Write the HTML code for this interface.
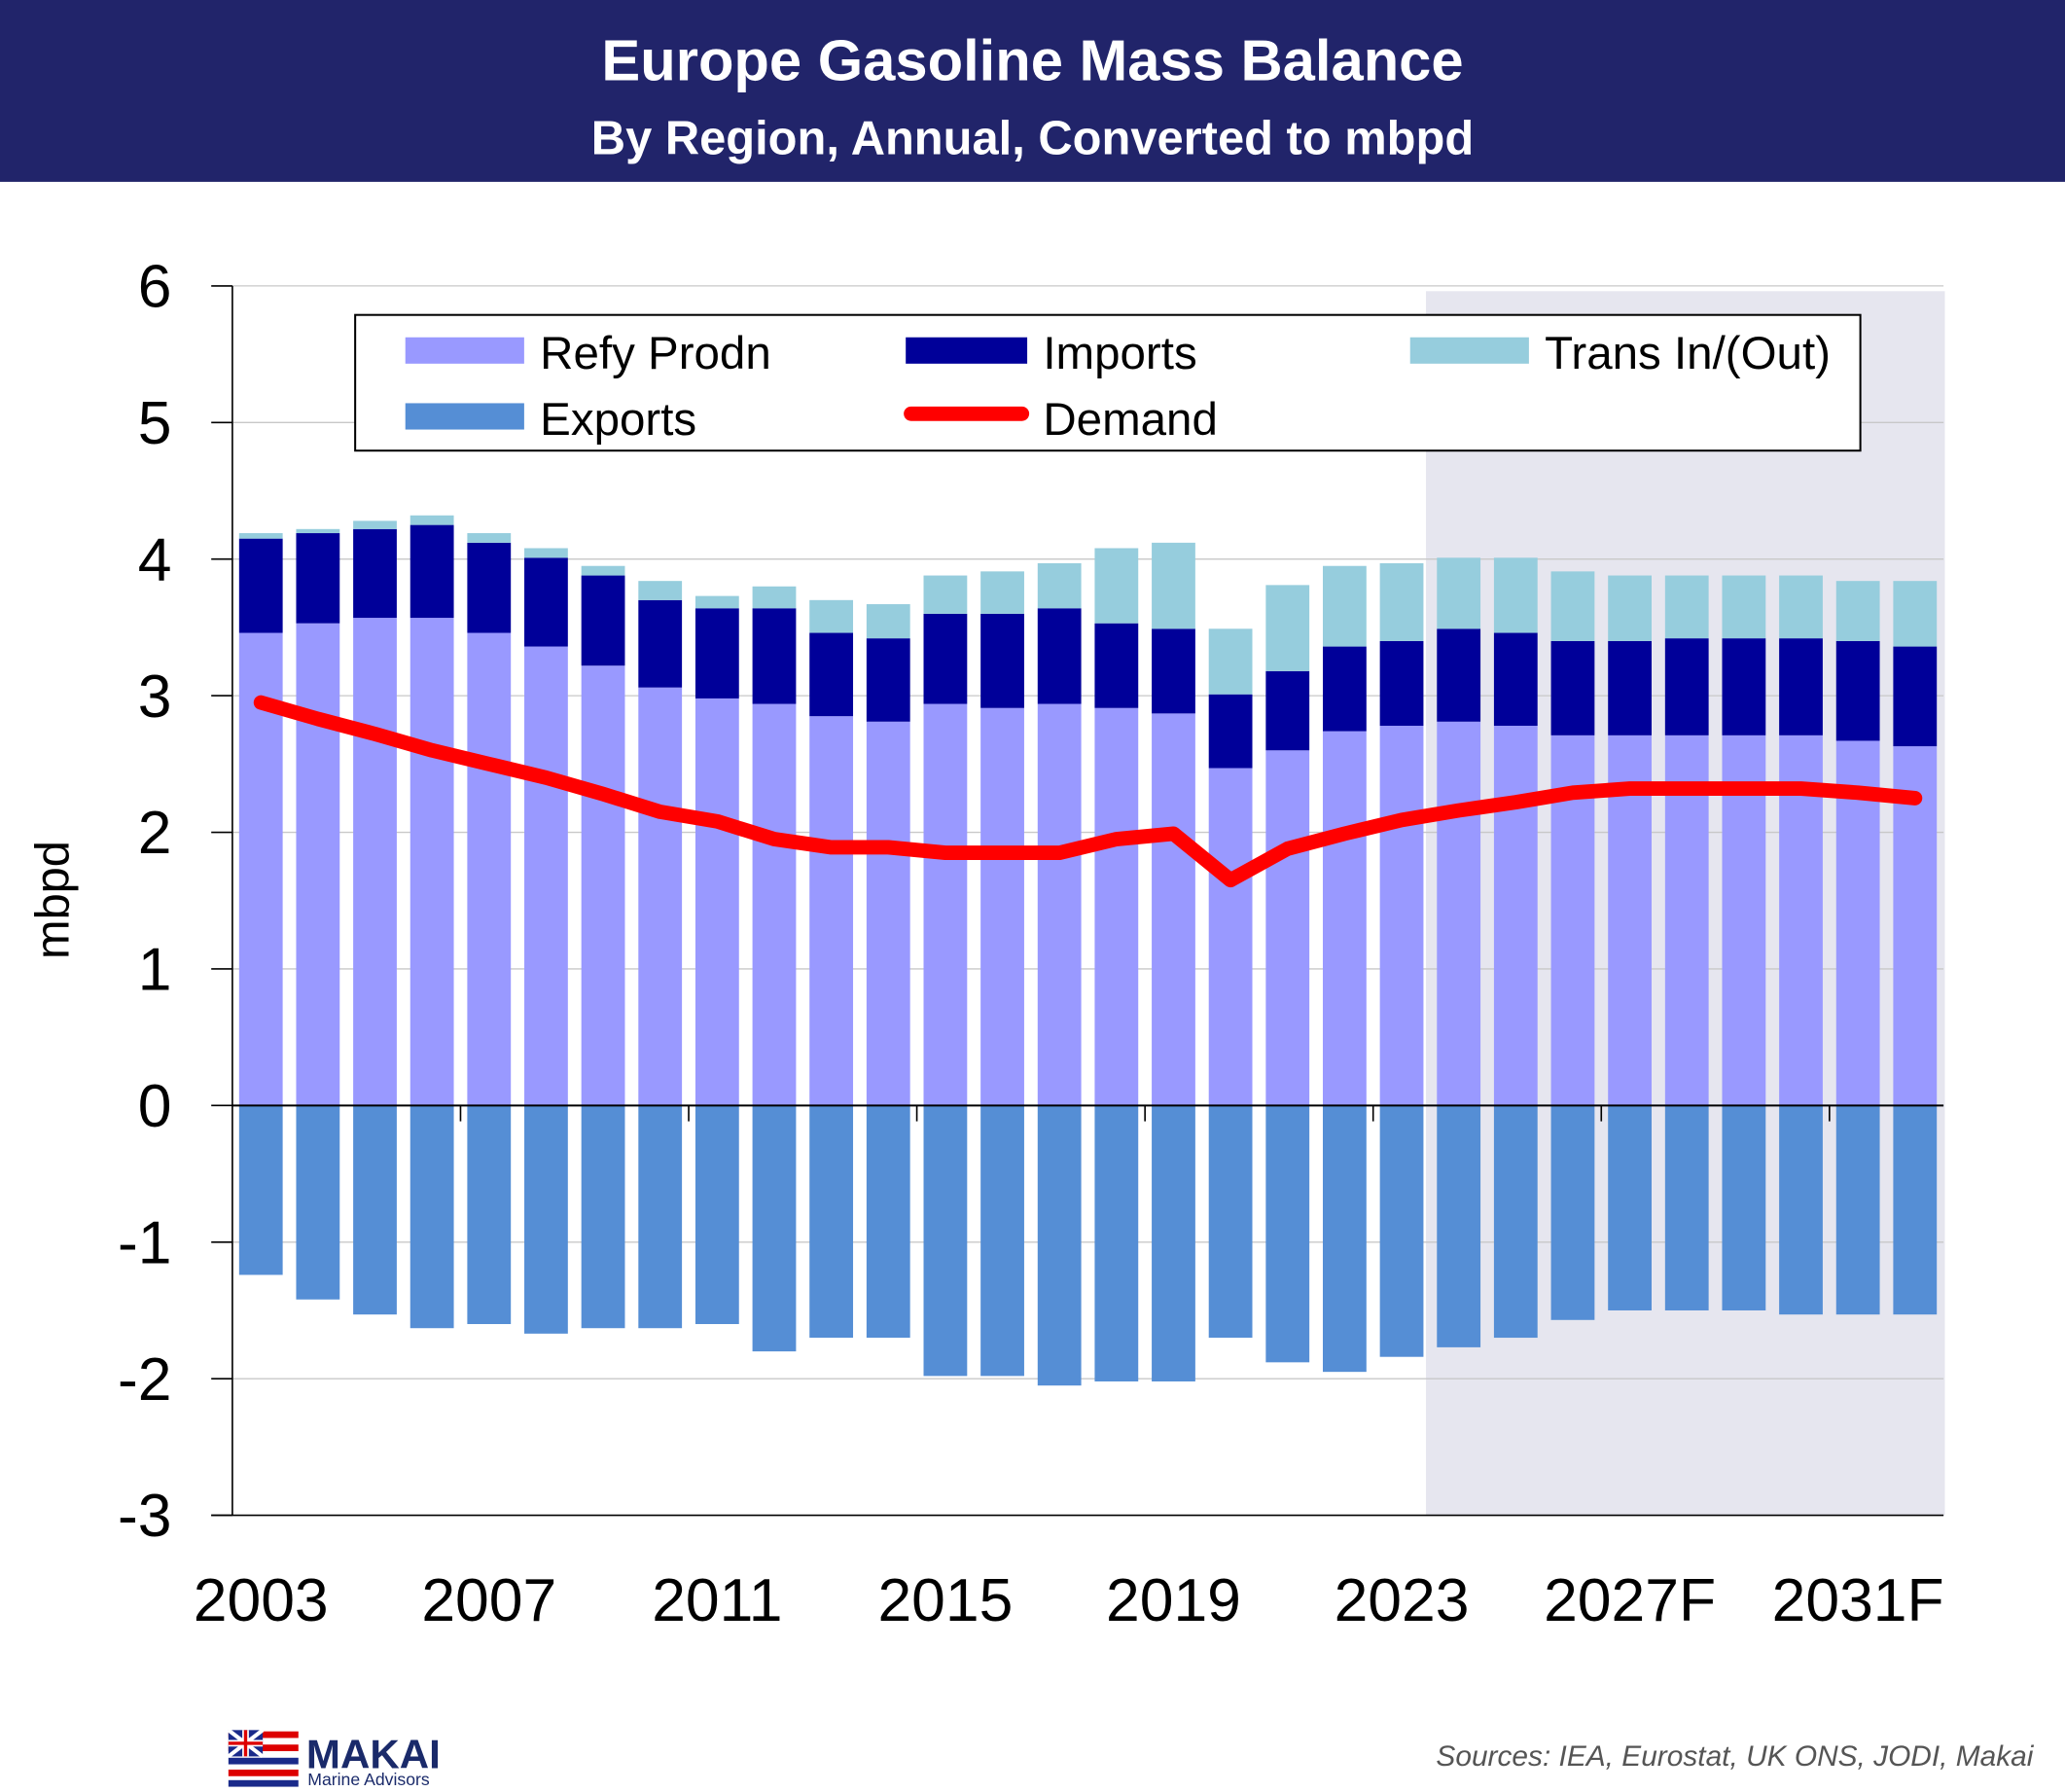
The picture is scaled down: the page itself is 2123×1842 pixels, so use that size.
<!DOCTYPE html>
<html><head><meta charset="utf-8"><style>
html,body{margin:0;padding:0;background:#fff}
svg{display:block}
text{font-family:"Liberation Sans",sans-serif}
</style></head><body>
<svg id="chart" width="2123" height="1842" viewBox="0 0 1564 1360" preserveAspectRatio="none" xmlns="http://www.w3.org/2000/svg">
<rect x="0" y="0" width="1564" height="138" fill="#21246a"/>
<text x="782" y="61" fill="#fff" font-size="44" font-weight="bold" text-anchor="middle">Europe Gasoline Mass Balance</text>
<text x="782" y="117" fill="#fff" font-size="36" font-weight="bold" text-anchor="middle">By Region, Annual, Converted to mbpd</text>
<rect x="1080" y="221" width="393" height="929" fill="#e6e6ef"/>
<g id="grid"></g>
<g id="bars"></g>
<g id="axes"></g>
<g id="line"></g>
<text transform="translate(52,683) rotate(-90)" font-size="36" text-anchor="middle">mbpd</text>
<g>
<rect x="269" y="239" width="1140" height="103" fill="#fff" stroke="#000" stroke-width="1.5"/>
<rect x="307" y="256" width="90" height="20" fill="#9999ff"/>
<text x="409" y="280" font-size="35">Refy Prodn</text>
<rect x="686" y="256" width="92" height="20" fill="#000099"/>
<text x="790" y="280" font-size="35">Imports</text>
<rect x="1068" y="256" width="90" height="20" fill="#96cddd"/>
<text x="1170" y="280" font-size="35">Trans In/(Out)</text>
<rect x="307" y="306" width="90" height="20" fill="#558ed5"/>
<text x="409" y="330" font-size="35">Exports</text>
<line x1="690" y1="314" x2="774" y2="314" stroke="#ff0000" stroke-width="11" stroke-linecap="round"/>
<text x="790" y="330" font-size="35">Demand</text>
</g>
<g>
<rect x="173" y="1313" width="53" height="43" fill="#fff"/>
<rect x="173" y="1314" width="53" height="5" fill="#d00"/>
<rect x="173" y="1324" width="53" height="5" fill="#d00"/>
<rect x="173" y="1334" width="53" height="5" fill="#1a2a8a"/>
<rect x="173" y="1343" width="53" height="5" fill="#d00"/>
<rect x="173" y="1351" width="53" height="5" fill="#1a2a8a"/>
<rect x="173" y="1313" width="26" height="20" fill="#1a2a8a"/>
<path d="M173 1313 L199 1333 M199 1313 L173 1333" stroke="#fff" stroke-width="3"/>
<path d="M186 1313 V1333 M173 1323 H199" stroke="#fff" stroke-width="5"/>
<path d="M186 1313 V1333 M173 1323 H199" stroke="#d00" stroke-width="2.5"/>
<text x="232" y="1342" font-size="31" font-weight="bold" fill="#1a2a6a">MAKAI</text>
<text x="233" y="1355" font-size="13" fill="#1a2a6a">Marine Advisors</text>
</g>
<text x="1540" y="1340" font-size="22" font-style="italic" fill="#555" text-anchor="end">Sources: IEA, Eurostat, UK ONS, JODI, Makai</text>
</svg>
<script>
const years = ["2003","2004","2005","2006","2007","2008","2009","2010","2011","2012","2013","2014","2015","2016","2017","2018","2019","2020","2021","2022","2023","2024","2025","2026","2027F","2028F","2029F","2030F","2031F","2032F"];
const refy = [3.46,3.53,3.57,3.57,3.46,3.36,3.22,3.06,2.98,2.94,2.85,2.81,2.94,2.91,2.94,2.91,2.87,2.47,2.60,2.74,2.78,2.81,2.78,2.71,2.71,2.71,2.71,2.71,2.67,2.63];
const imports = [0.69,0.66,0.65,0.68,0.66,0.65,0.66,0.64,0.66,0.70,0.61,0.61,0.66,0.69,0.70,0.62,0.62,0.54,0.58,0.62,0.62,0.68,0.68,0.69,0.69,0.71,0.71,0.71,0.73,0.73];
const trans = [0.04,0.03,0.06,0.07,0.07,0.07,0.07,0.14,0.09,0.16,0.24,0.25,0.28,0.31,0.33,0.55,0.63,0.48,0.63,0.59,0.57,0.52,0.55,0.51,0.48,0.46,0.46,0.46,0.44,0.48];
const exportsV = [-1.24,-1.42,-1.53,-1.63,-1.60,-1.67,-1.63,-1.63,-1.60,-1.80,-1.70,-1.70,-1.98,-1.98,-2.05,-2.02,-2.02,-1.70,-1.88,-1.95,-1.84,-1.77,-1.70,-1.57,-1.50,-1.50,-1.50,-1.53,-1.53,-1.53];
const demand = [2.95,2.83,2.72,2.60,2.50,2.40,2.28,2.15,2.08,1.95,1.89,1.89,1.85,1.85,1.85,1.95,1.99,1.65,1.88,1.99,2.09,2.16,2.22,2.29,2.32,2.32,2.32,2.32,2.29,2.25];
const yTicks = [6,5,4,3,2,1,0,-1,-2,-3];
const xLabelIdx = [0,4,8,12,16,20,24,28];

const NS="http://www.w3.org/2000/svg";
const X0=176,X1=1472,Y0=839,PU=103.67;
const bw=(X1-X0)/years.length;
const yS=v=>Y0-v*PU;
const xC=i=>X0+bw*(i+0.5);
function mk(tag,attrs,parent){const e=document.createElementNS(NS,tag);for(const k in attrs)e.setAttribute(k,attrs[k]);parent.appendChild(e);return e;}
const G=document.getElementById('grid'),B=document.getElementById('bars'),A=document.getElementById('axes'),L=document.getElementById('line');
yTicks.forEach(t=>{
  if(t!==0&&t!==-3){const g=mk('line',{x1:X0,x2:X1,y1:yS(t),y2:yS(t),stroke:'#c8c8c8','stroke-width':1},G);
  
  }
  const tk=mk('line',{x1:160,x2:X0,y1:yS(t),y2:yS(t),stroke:'#000','stroke-width':1.2},A);
  
  
  const tx=mk('text',{x:130,y:yS(t)+16,'font-size':46,'text-anchor':'end'},A);
  tx.textContent=t;
  
  
});
const bwid=33;
years.forEach((yr,i)=>{
  const x=xC(i)-bwid/2;
  const segs=[[0,refy[i],'#9999ff','bar-refy'],[refy[i],refy[i]+imports[i],'#000099','bar-imports'],[refy[i]+imports[i],refy[i]+imports[i]+trans[i],'#96cddd','bar-trans'],[exportsV[i],0,'#558ed5','bar-exports']];
  segs.forEach(s=>{
    const r=mk('rect',{x:x,y:yS(s[1]),width:bwid,height:yS(s[0])-yS(s[1]),fill:s[3]?s[2]:s[2]},B);
    
    
  });
});
const ax=mk('line',{x1:X0,x2:X0,y1:217,y2:1150,stroke:'#000','stroke-width':1.2},A);


const bl=mk('line',{x1:160,x2:X1,y1:1150,y2:1150,stroke:'#000','stroke-width':1.2},A);


const zl=mk('line',{x1:X0,x2:X1,y1:Y0,y2:Y0,stroke:'#000','stroke-width':1.5},A);


for(let k=4;k<years.length;k+=4){
  const t=mk('line',{x1:X0+bw*k,x2:X0+bw*k,y1:Y0,y2:Y0+12,stroke:'#000','stroke-width':1.2},A);
  
  
}
xLabelIdx.forEach(i=>{
  const t=mk('text',{x:xC(i),y:1230,'font-size':46,'text-anchor':'middle'},A);
  t.textContent=years[i];
  
  
});
const pts=demand.map((v,i)=>xC(i)+','+yS(v)).join(' ');
const pl=mk('polyline',{points:pts,fill:'none',stroke:'#ff0000','stroke-width':11,'stroke-linejoin':'round','stroke-linecap':'round'},L);


</script>
</body></html>
